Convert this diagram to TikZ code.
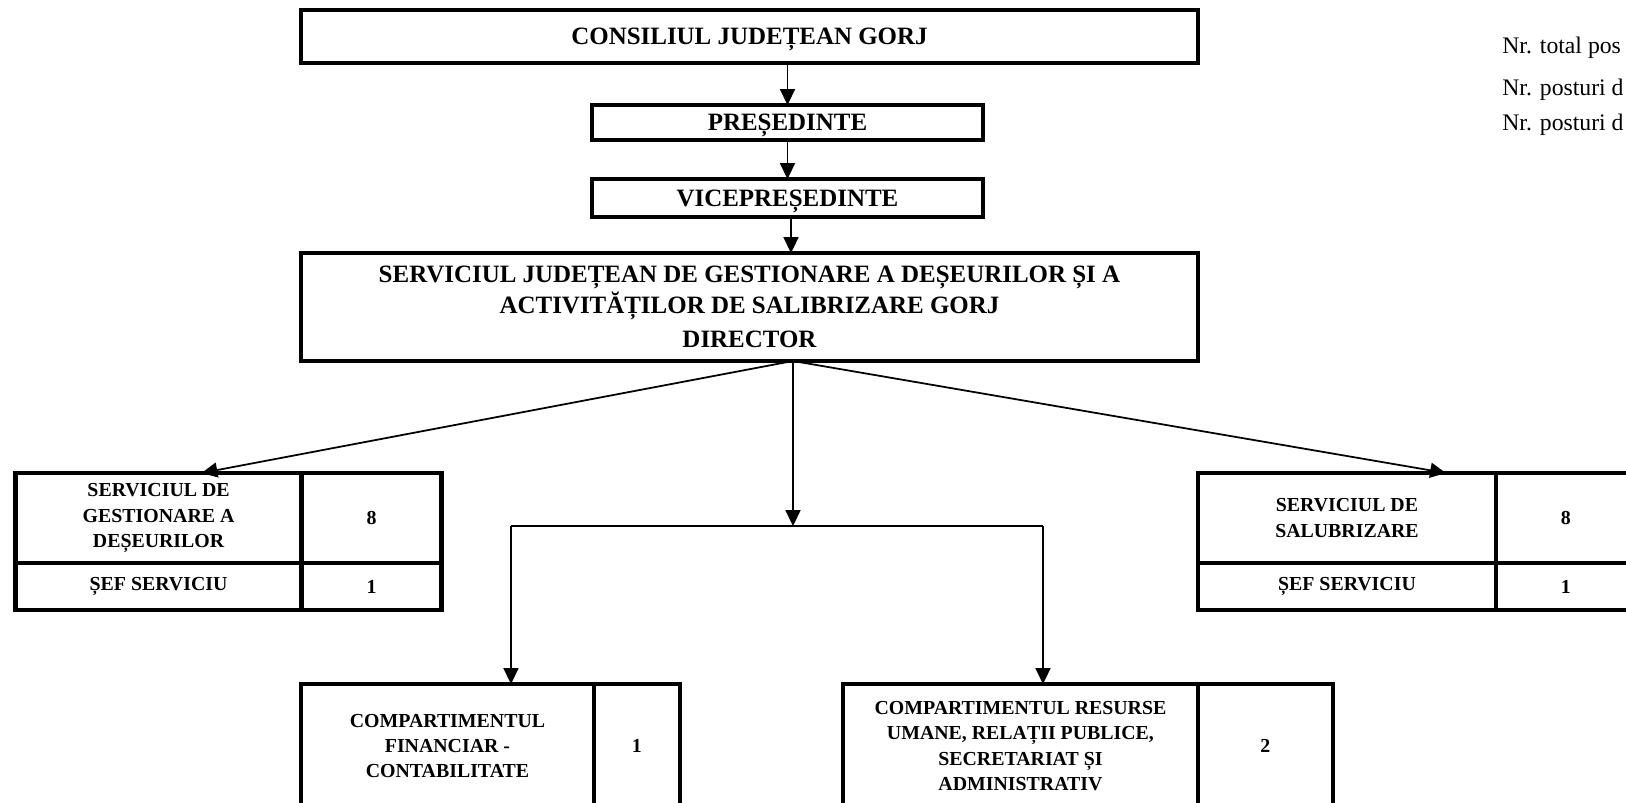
\documentclass[tikz,border=0pt]{standalone}
\usepackage{fontspec}
\setmainfont{Liberation Serif}
\usetikzlibrary{arrows.meta}

\tikzset{
  caseta/.style={draw, line width=2.5pt, inner sep=0pt, outer sep=0pt, align=center, text depth=-4.5pt,
    font=\bfseries\fontsize{14.2}{17.5}\selectfont},
  celula/.style={draw, line width=2.5pt, inner sep=0pt, outer sep=0pt, align=center, anchor=north west,
    font=\bfseries\fontsize{11.3}{14.4}\selectfont},
  sageata/.style={line width=1pt, -{Triangle[length=9pt,width=8.5pt]}},
  legatura/.style={line width=1pt},
  nota/.style={anchor=west, inner sep=0pt, font=\fontsize{13.5}{16}\selectfont}
}

\begin{document}
\begin{tikzpicture}[x=0.02cm, y=-0.02cm]
    \useasboundingbox (0,0) rectangle (1626,803);

    % Top of the hierarchy
    \node[caseta, minimum width=17.94cm, minimum height=1.06cm] (consiliu) at (749.5,36.5) {CONSILIUL JUDEȚEAN GORJ};
    \node[caseta, minimum width=7.82cm, minimum height=0.70cm] (presedinte) at (787.5,122.5) {PREȘEDINTE};
    \node[caseta, minimum width=7.82cm, minimum height=0.76cm] (vice) at (787.5,198) {VICEPREȘEDINTE};

    % Service and director
    \node[caseta, text depth=-7pt, minimum width=17.94cm, minimum height=2.16cm] (director) at (749.5,307)
        {SERVICIUL JUDEȚEAN DE GESTIONARE A DEȘEURILOR ȘI A\\ACTIVITĂȚILOR DE SALIBRIZARE GORJ\\[2pt]DIRECTOR};

    % Notes, top right
    \node[nota] (nrtotal) at (1502,47.5) {Nr. total pos};
    \node[nota] (nrcond) at (1502,90) {Nr. posturi d};
    \node[nota] (nrexec) at (1502,125) {Nr. posturi d};

    % Left table
    \node[celula, minimum width=5.72cm, minimum height=1.80cm] (gdes) at (15.6,473) {SERVICIUL DE\\GESTIONARE A\\DEȘEURILOR};
    \node[celula, minimum width=2.80cm, minimum height=1.80cm] (gnr) at (gdes.north east) {8};
    \node[celula, minimum width=5.72cm, minimum height=0.94cm] (gsef) at (gdes.south west) {ȘEF SERVICIU};
    \node[celula, minimum width=2.80cm, minimum height=0.94cm] (gsefnr) at (gsef.north east) {1};

    % Right table
    \node[celula, minimum width=5.96cm, minimum height=1.80cm] (sdes) at (1198,473) {SERVICIUL DE\\SALUBRIZARE};
    \node[celula, minimum width=2.80cm, minimum height=1.80cm] (snr) at (sdes.north east) {8};
    \node[celula, minimum width=5.96cm, minimum height=0.94cm] (ssef) at (sdes.south west) {ȘEF SERVICIU};
    \node[celula, minimum width=2.80cm, minimum height=0.94cm] (ssefnr) at (ssef.north east) {1};

    % Compartments
    \node[celula, minimum width=5.86cm, minimum height=2.48cm] (financiar) at (301,684) {COMPARTIMENTUL\\FINANCIAR -\\CONTABILITATE};
    \node[celula, minimum width=1.72cm, minimum height=2.48cm] (finnr) at (financiar.north east) {1};
    \node[celula, minimum width=7.10cm, minimum height=2.48cm] (resurse) at (843,684)
        {COMPARTIMENTUL RESURSE\\UMANE, RELAȚII PUBLICE,\\SECRETARIAT ȘI\\ADMINISTRATIV};
    \node[celula, minimum width=2.70cm, minimum height=2.48cm] (resnr) at (resurse.north east) {2};

    % Chain of command
    \draw[sageata] (presedinte.north |- consiliu.south) -- (presedinte.north);
    \draw[sageata] (presedinte.south) -- (vice.north);
    \draw[sageata] ([xshift=0.07cm]vice.south) -- ([xshift=0.07cm]vice.south |- director.north);

    % Branches below the director
    \coordinate (ramura) at ([xshift=0.87cm]director.south);
    \coordinate (bst) at (511,526);
    \coordinate (bdr) at (1043,526);
    \draw[sageata] (ramura) -- ([xshift=-2cm]gdes.north east);
    \draw[sageata] (ramura) -- ([xshift=-1cm]sdes.north east);
    \draw[sageata] (ramura) -- (ramura |- bst);
    \draw[legatura] (bst) -- (bdr);
    \draw[sageata] (bst) -- (bst |- financiar.north);
    \draw[sageata] (bdr) -- (bdr |- resurse.north);

\end{tikzpicture}
\end{document}
